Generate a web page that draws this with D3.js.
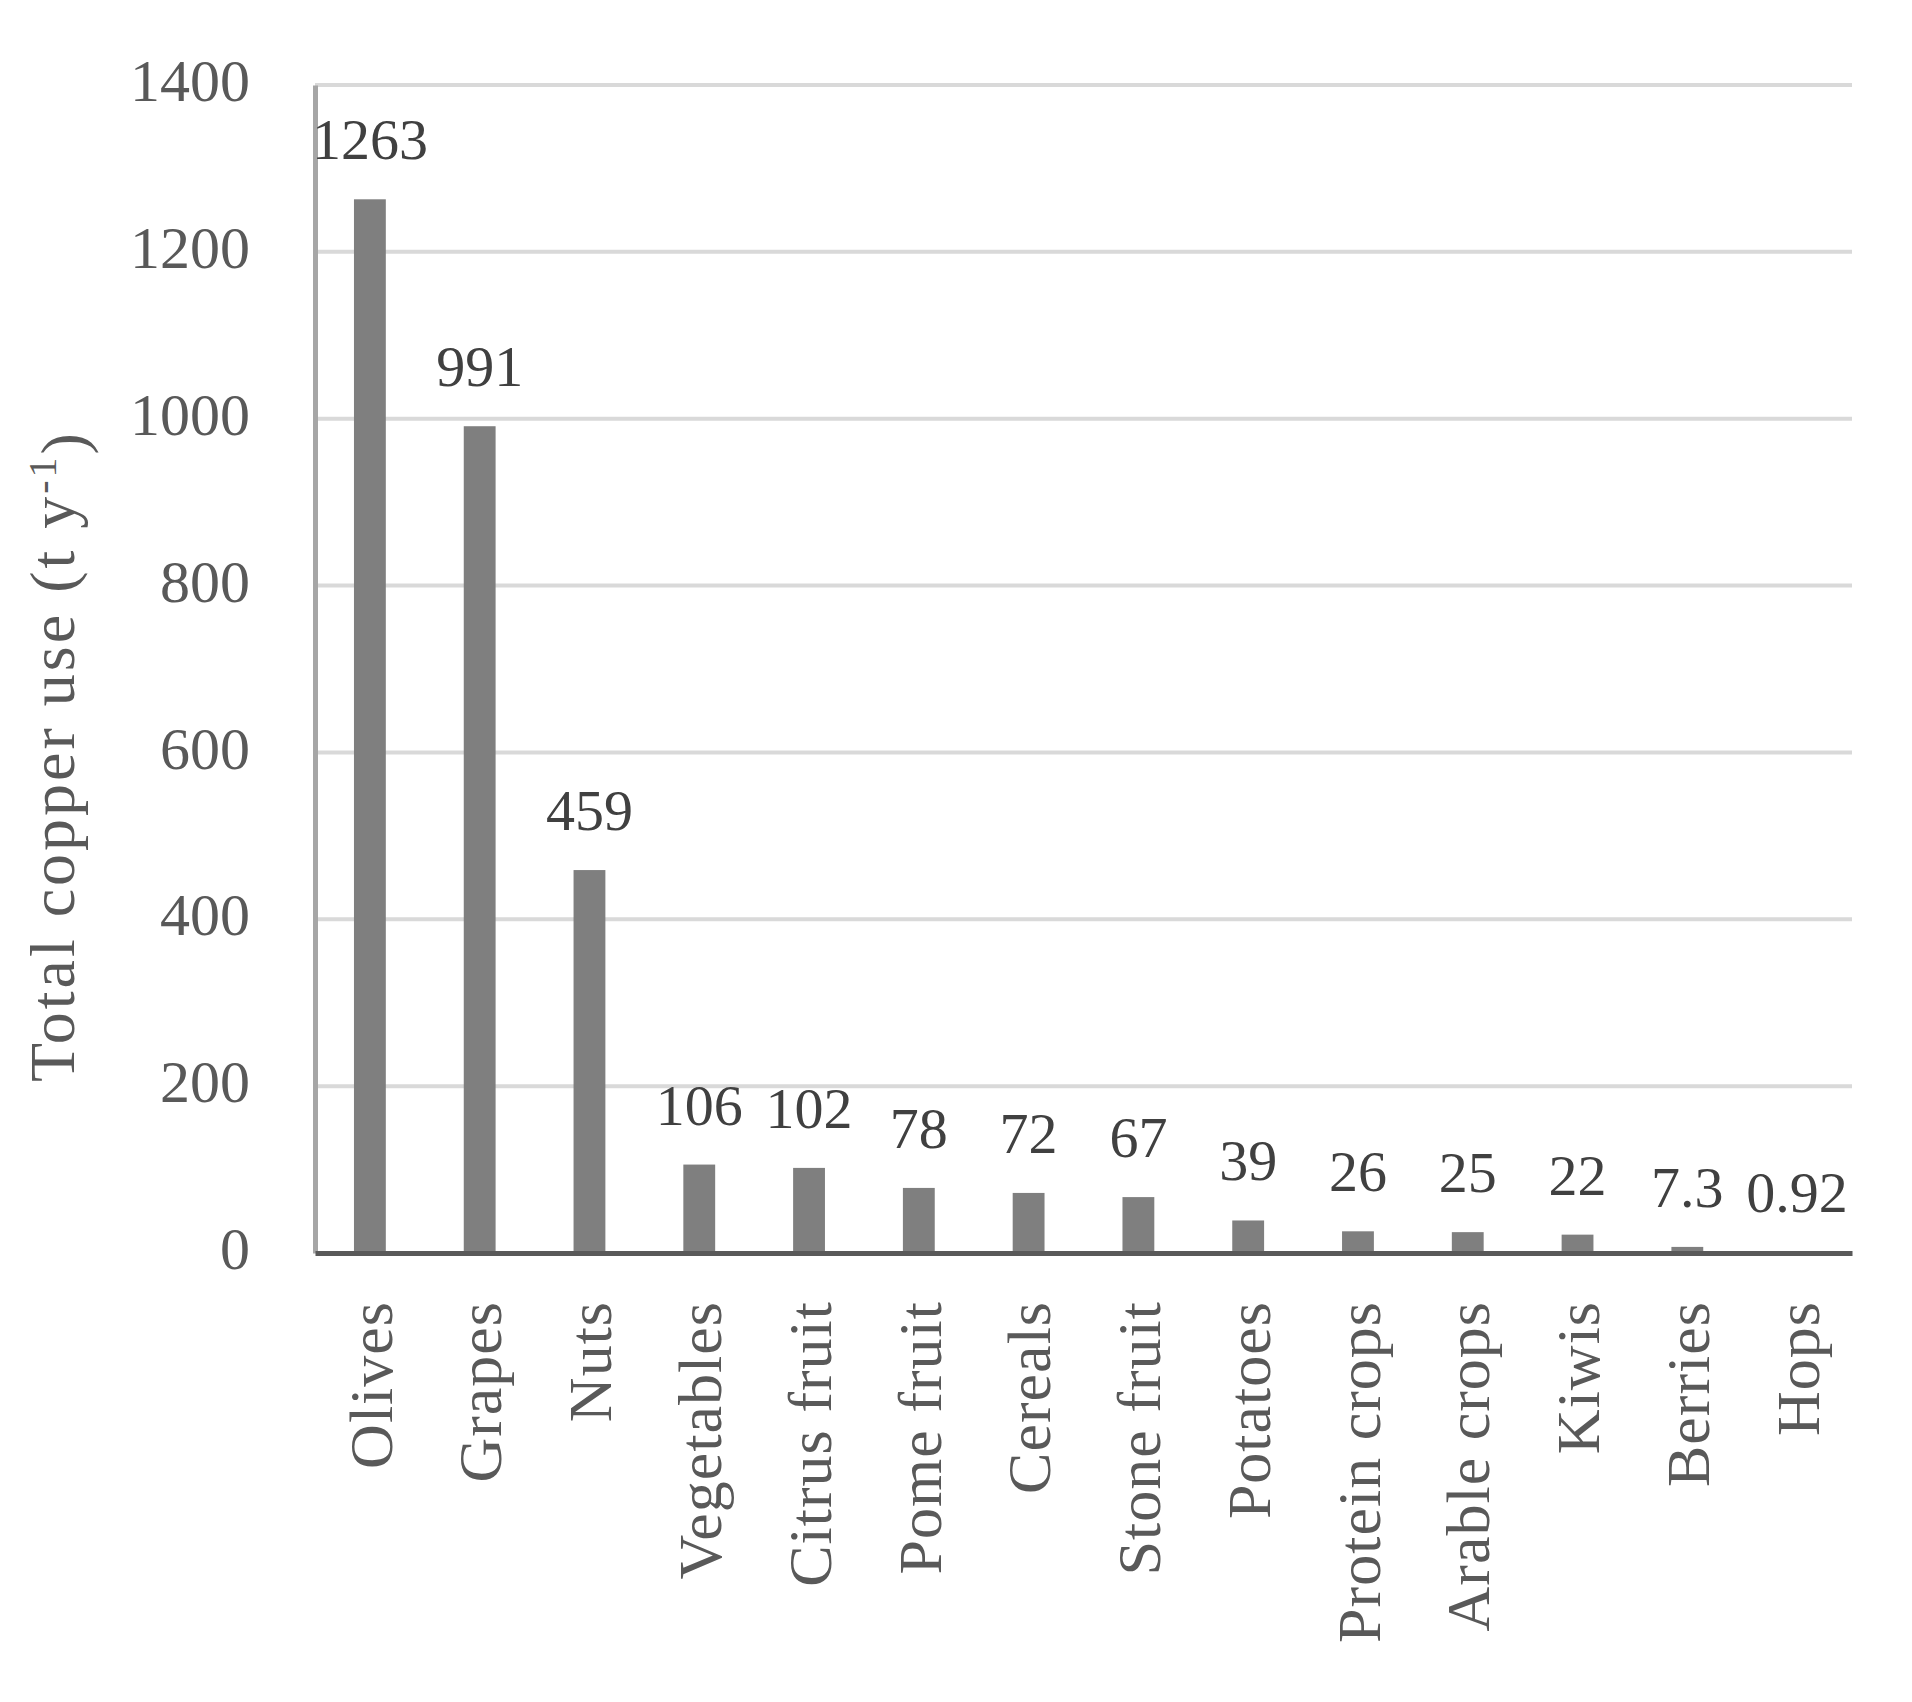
<!DOCTYPE html>
<html>
<head>
<meta charset="utf-8">
<script src="https://cdn.jsdelivr.net/npm/d3@7"></script>
<style>
  html, body { margin: 0; padding: 0; background: #fff; }
  svg { display: block; }
  text { font-family: "Liberation Serif", "DejaVu Serif", serif; }
</style>
</head>
<body>
<svg id="chart" width="1912" height="1702"></svg>
<script>
const categories = ["Olives", "Grapes", "Nuts", "Vegetables", "Citrus fruit", "Pome fruit", "Cereals", "Stone fruit", "Potatoes", "Protein crops", "Arable crops", "Kiwis", "Berries", "Hops"];
const values = [1263, 991, 459, 106, 102, 78, 72, 67, 39, 26, 25, 22, 7.3, 0.92];
const valueLabels = ["1263", "991", "459", "106", "102", "78", "72", "67", "39", "26", "25", "22", "7.3", "0.92"];
const yTicks = [0, 200, 400, 600, 800, 1000, 1200, 1400];
const yTitle = "Total copper use (t y";
const yTitleSup = "-1";

(function () {
const svg = d3.select("#chart");
const mLeft = 315, mRight = 1852, mTop = 85, mBottom = 1253;

const x = d3.scaleBand().domain(categories).range([mLeft, mRight]).paddingInner(0.71).paddingOuter(0.355);
const y = d3.scaleLinear().domain([0, 1400]).range([mBottom, mTop]);

// gridlines
svg.append("g").selectAll("line").data(yTicks.filter(d => d > 0)).join("line")
  .attr("x1", mLeft).attr("x2", mRight)
  .attr("y1", d => y(d)).attr("y2", d => y(d))
  .attr("stroke", "#d9d9d9").attr("stroke-width", 4);

// y axis
const yAxis = d3.axisLeft(y).tickValues(yTicks).tickFormat(d3.format("d")).tickSize(0).tickPadding(65);
const gy = svg.append("g").attr("transform", `translate(${mLeft},0)`).call(yAxis);
gy.select(".domain").attr("stroke", "#a6a6a6").attr("stroke-width", 5);
gy.selectAll("text").attr("font-size", 60).attr("fill", "#595959")
  .attr("font-family", "Liberation Serif").attr("dy", "0.26em");

// bars
svg.append("g").selectAll("rect").data(values).join("rect")
  .attr("x", (d, i) => x(categories[i]))
  .attr("width", x.bandwidth())
  .attr("y", d => y(d))
  .attr("height", d => mBottom - y(d))
  .attr("fill", "#7f7f7f");

// x axis
const xAxis = d3.axisBottom(x).tickSize(0).tickPadding(0);
const gx = svg.append("g").attr("transform", `translate(0,${mBottom})`).call(xAxis);
gx.select(".domain").attr("stroke", "#595959").attr("stroke-width", 5);
gx.selectAll("text")
  .attr("font-size", 62).attr("fill", "#595959").attr("font-family", "Liberation Serif")
  .attr("letter-spacing", 1)
  .attr("text-anchor", "end")
  .attr("transform", "translate(0,48) rotate(-90)")
  .attr("x", 0).attr("y", 0).attr("dy", "0.35em");

// value labels
svg.append("g").selectAll("text").data(values).join("text")
  .attr("x", (d, i) => x(categories[i]) + x.bandwidth() / 2)
  .attr("y", d => y(d) - 40)
  .attr("text-anchor", "middle")
  .attr("font-size", 58).attr("fill", "#404040")
  .text((d, i) => valueLabels[i]);

// y title
const t = svg.append("text")
  .attr("transform", "translate(74,756) rotate(-90)")
  .attr("text-anchor", "middle")
  .attr("font-size", 64).attr("letter-spacing", 3).attr("fill", "#595959");
t.append("tspan").text(yTitle);
t.append("tspan").attr("dy", "-0.45em").attr("font-size", 40).text(yTitleSup);
t.append("tspan").attr("dy", "0.45em").text(")");
})();
</script>
</body>
</html>
